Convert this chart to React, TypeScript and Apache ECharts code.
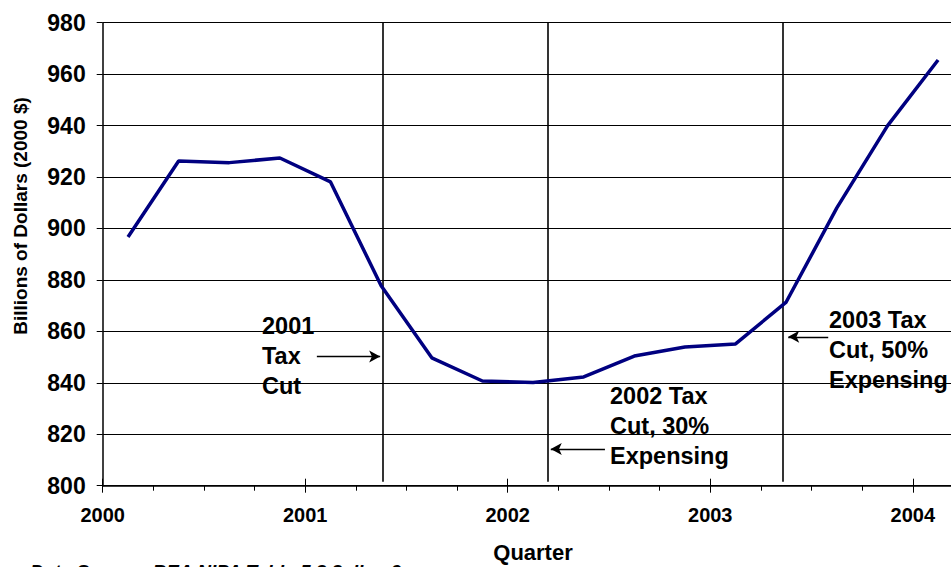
import React, { useEffect, useRef } from "react";
import * as echarts from "echarts";

// Quarterly data, 2000Q1 .. 2004Q1
const quarters = [
  "2000Q1", "2000Q2", "2000Q3", "2000Q4",
  "2001Q1", "2001Q2", "2001Q3", "2001Q4",
  "2002Q1", "2002Q2", "2002Q3", "2002Q4",
  "2003Q1", "2003Q2", "2003Q3", "2003Q4",
  "2004Q1",
];
const values = [
  896.7, 926.2, 925.6, 927.4,
  918.1, 877.7, 849.7, 840.7,
  840.1, 842.3, 850.4, 853.9,
  855.1, 871.4, 908.0, 939.9,
  965.5,
];
const yearLabels = ["2000", "2001", "2002", "2003", "2004"];
const yTicks = { min: 800, max: 980, step: 20 };

// Policy event positions on the quarter axis (quarters since 2000Q1 start)
const policyLines = [5.53, 8.79, 13.43];
// Annotation arrows: [x from, x to, y value]
const arrows: [number, number, number][] = [
  [4.23, 5.48, 850.2],
  [9.92, 8.85, 814.3],
  [14.33, 13.54, 857.9],
];
const notes = [
  { text: "2001\nTax\nCut", x: 262, y: 311 },
  { text: "2002 Tax\nCut, 30%\nExpensing", x: 610, y: 381 },
  { text: "2003 Tax\nCut, 50%\nExpensing", x: 829, y: 305 },
];

const FONT = "'Liberation Sans', Arial, sans-serif";
const CANVAS_W = 980;

export default function App() {
  const ref = useRef<HTMLDivElement>(null);
  useEffect(() => {
    if (!ref.current) return;
    const chart = echarts.init(ref.current, undefined, { renderer: "svg" });
    const nQ = quarters.length;
    const seriesData = values.map((v, i) => [i + 0.5, v]);
    const baseX = {
      type: "value" as const,
      min: 0,
      max: nQ,
      position: "bottom" as const,
      splitLine: { show: false },
    };
    chart.setOption({
      animation: false,
      textStyle: { fontFamily: FONT },
      grid: { left: 102.7, top: 22.7, bottom: 81.3, right: CANVAS_W - 963.4, containLabel: false },
      xAxis: [
        {
          ...baseX,
          interval: 1,
          axisLine: { show: true, lineStyle: { color: "#000", width: 1.5 } },
          axisTick: { show: true, length: 5, lineStyle: { color: "#000", width: 1 } },
          axisLabel: { show: false },
        },
        {
          ...baseX,
          interval: 4,
          axisLine: { show: false },
          axisTick: { show: true, inside: true, length: 7, lineStyle: { color: "#000", width: 1 } },
          axisLabel: {
            show: true,
            margin: 19,
            fontSize: 20,
            fontWeight: "bold",
            color: "#000",
            fontFamily: FONT,
            showMaxLabel: false,
            formatter: (v: number) => (v % 4 === 0 ? yearLabels[v / 4] ?? "" : ""),
          },
        },
        {
          ...baseX,
          interval: 4,
          axisLine: { show: false },
          axisTick: { show: true, inside: false, length: 7, lineStyle: { color: "#000", width: 1 } },
          axisLabel: { show: false },
        },
      ],
      yAxis: {
        type: "value",
        min: yTicks.min,
        max: yTicks.max,
        interval: yTicks.step,
        axisLine: { show: true, lineStyle: { color: "#000", width: 1.5 } },
        axisTick: { show: true, length: 6, lineStyle: { color: "#000" } },
        axisLabel: {
          margin: 17,
          fontSize: 23,
          fontWeight: "bold",
          color: "#000",
          fontFamily: FONT,
        },
        splitLine: { show: true, lineStyle: { color: "#000", width: 1 } },
      },
      series: [
        {
          type: "line",
          data: seriesData,
          symbol: "none",
          lineStyle: { color: "#000080", width: 3.5 },
          z: 5,
          markLine: {
            silent: true,
            symbol: ["none", "none"],
            label: { show: false },
            lineStyle: { color: "#000", width: 1.6, type: "solid" },
            data: policyLines.map((x) => [
              { coord: [x, yTicks.max] },
              { coord: [x, 801.5] },
            ]),
          },
        },
        {
          type: "line",
          data: [],
          markLine: {
            silent: true,
            symbol: ["none", "arrow"],
            symbolSize: [9, 11],
            label: { show: false },
            lineStyle: { color: "#000", width: 1.3, type: "solid" },
            data: arrows.map(([x0, x1, y]) => [
              { coord: [x0, y] },
              { coord: [x1, y] },
            ]),
          },
        },
      ],
      graphic: [
        ...notes.map((n) => ({
          type: "text",
          x: n.x,
          y: n.y,
          z: 10,
          style: {
            text: n.text,
            fontSize: 23.5,
            fontWeight: "bold",
            fontFamily: FONT,
            fill: "#000",
            lineHeight: 30,
            align: "left",
            verticalAlign: "top",
          },
        })),
        {
          type: "text",
          x: 20,
          y: 216,
          rotation: Math.PI / 2,
          style: {
            text: "Billions of Dollars (2000 $)",
            fontSize: 19,
            fontWeight: "bold",
            fontFamily: FONT,
            fill: "#000",
            align: "center",
            verticalAlign: "middle",
          },
        },
        {
          type: "text",
          x: 533,
          y: 552,
          style: {
            text: "Quarter",
            fontSize: 22,
            fontWeight: "bold",
            fontFamily: FONT,
            fill: "#000",
            align: "center",
            verticalAlign: "middle",
          },
        },
        {
          type: "text",
          x: 30,
          y: 562,
          style: {
            text: "Data Source: BEA NIPA Table 5.3.3, line 9",
            fontSize: 19,
            fontWeight: "bold",
            fontStyle: "italic",
            fontFamily: FONT,
            fill: "#000",
            align: "left",
            verticalAlign: "top",
          },
        },
      ],
    });
    return () => chart.dispose();
  }, []);
  return (
    <div
      ref={ref}
      style={{ position: "fixed", left: 0, top: 0, width: CANVAS_W, height: 567, background: "#fff" }}
    />
  );
}
